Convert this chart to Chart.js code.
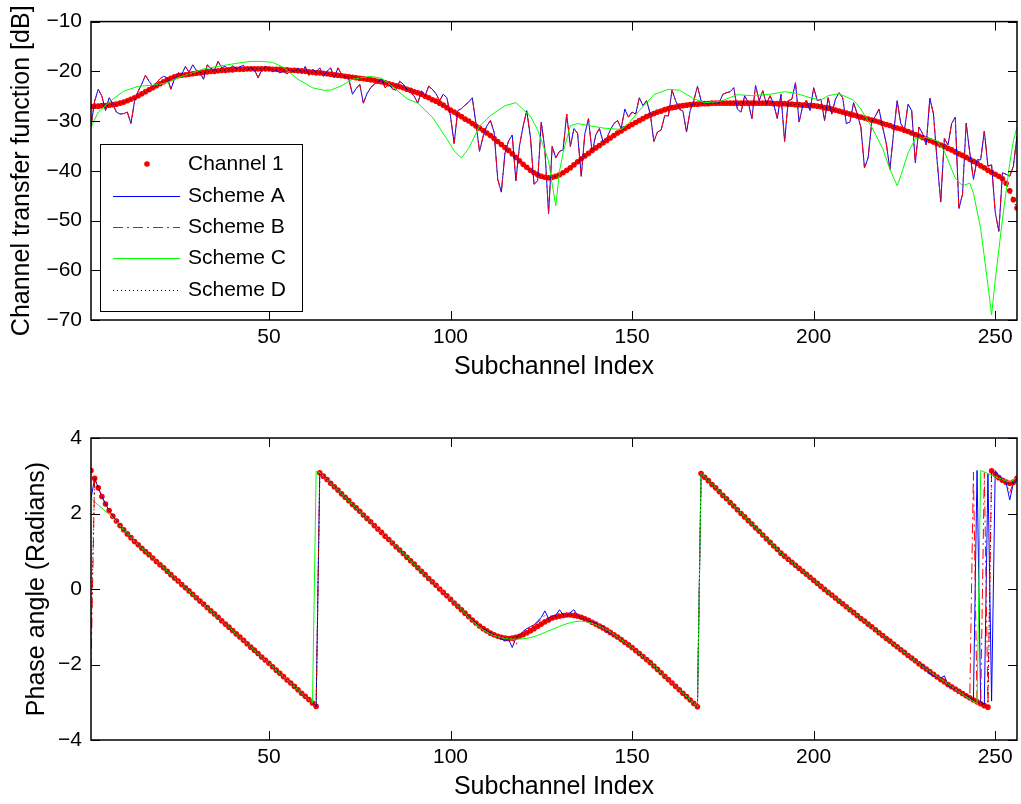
<!DOCTYPE html>
<html><head><meta charset="utf-8">
<script src="https://cdn.jsdelivr.net/npm/chart.js@4.4.1/dist/chart.umd.min.js"></script>
<style>
html,body{margin:0;padding:0;background:#fff;}
#wrap{position:relative;width:1021px;height:804px;background:#fff;}
#c1{position:absolute;left:0;top:0;}
#c2{position:absolute;left:0;top:400px;}
</style></head><body>
<div id="wrap"><canvas id="c1" width="1021" height="400"></canvas><canvas id="c2" width="1021" height="404"></canvas></div>
<script>
// ---------------- DATA ----------------
const seriesNames = ['Channel 1','Scheme A','Scheme B','Scheme C','Scheme D'];
const xTicks = [50,100,150,200,250];
const yTicksTop = [-70,-60,-50,-40,-30,-20,-10];
const yTicksBottom = [-4,-2,0,2,4];
const xLabel = 'Subchannel Index';
const yLabelTop = 'Channel transfer function [dB]';
const yLabelBottom = 'Phase angle (Radians)';

// Channel 1 magnitude (dB), subchannels 1..256
const channel1_dB = [
-27.1,-27.0,-27.0,-26.9,-26.9,-26.8,-26.7,-26.6,-26.4,-26.2,
-25.9,-25.6,-25.3,-24.9,-24.5,-24.1,-23.7,-23.3,-22.9,-22.5,
-22.1,-21.7,-21.4,-21.1,-20.9,-20.8,-20.7,-20.6,-20.5,-20.4,
-20.3,-20.2,-20.1,-20.0,-20.0,-19.9,-19.8,-19.8,-19.7,-19.7,
-19.6,-19.6,-19.6,-19.5,-19.5,-19.5,-19.5,-19.5,-19.5,-19.5,
-19.6,-19.6,-19.6,-19.7,-19.7,-19.8,-19.8,-19.9,-19.9,-20.0,
-20.1,-20.2,-20.3,-20.3,-20.4,-20.5,-20.6,-20.7,-20.8,-20.9,
-21.0,-21.1,-21.2,-21.3,-21.4,-21.5,-21.6,-21.7,-21.8,-22.0,
-22.1,-22.3,-22.5,-22.7,-22.9,-23.1,-23.3,-23.6,-23.8,-24.1,
-24.3,-24.6,-25.0,-25.3,-25.7,-26.0,-26.4,-26.8,-27.3,-27.8,
-28.2,-28.7,-29.1,-29.6,-30.0,-30.5,-31.0,-31.4,-31.9,-32.4,
-32.9,-33.5,-34.1,-34.7,-35.3,-35.9,-36.6,-37.3,-38.0,-38.7,
-39.3,-39.9,-40.4,-40.8,-41.1,-41.3,-41.4,-41.3,-41.1,-40.8,
-40.4,-39.9,-39.4,-38.8,-38.2,-37.6,-37.0,-36.5,-35.9,-35.4,
-34.9,-34.4,-33.9,-33.4,-32.9,-32.4,-32.0,-31.5,-31.1,-30.7,
-30.3,-29.9,-29.5,-29.1,-28.8,-28.5,-28.2,-28.0,-27.7,-27.5,
-27.3,-27.2,-27.0,-26.9,-26.8,-26.7,-26.6,-26.6,-26.5,-26.5,
-26.5,-26.4,-26.4,-26.4,-26.4,-26.4,-26.4,-26.4,-26.4,-26.4,
-26.4,-26.4,-26.4,-26.4,-26.4,-26.4,-26.4,-26.4,-26.5,-26.5,
-26.5,-26.5,-26.6,-26.6,-26.7,-26.7,-26.8,-26.8,-26.9,-26.9,
-27.0,-27.1,-27.3,-27.4,-27.6,-27.8,-28.0,-28.2,-28.4,-28.6,
-28.8,-29.0,-29.2,-29.4,-29.6,-29.8,-30.0,-30.2,-30.5,-30.7,
-30.9,-31.2,-31.4,-31.6,-31.9,-32.1,-32.4,-32.7,-33.0,-33.3,
-33.6,-33.9,-34.2,-34.5,-34.8,-35.1,-35.5,-35.8,-36.2,-36.6,
-36.9,-37.3,-37.7,-38.1,-38.5,-39.0,-39.4,-39.9,-40.3,-40.7,
-41.1,-41.6,-42.5,-44.0,-45.8,-47.5];

// Scheme A magnitude (dB) (Scheme B coincides with it in the picture)
const schemeA_dB = [
-31.0,-26.0,-23.6,-25.0,-27.9,-25.3,-26.5,-28.2,-28.6,-28.5,
-28.2,-30.5,-26.0,-24.0,-22.5,-20.8,-22.0,-23.0,-22.3,-21.5,
-21.0,-21.3,-23.6,-21.5,-20.3,-20.6,-19.0,-20.2,-18.7,-19.8,
-20.2,-21.6,-18.7,-19.4,-19.8,-18.0,-19.3,-19.0,-19.7,-18.9,
-19.4,-19.1,-18.8,-19.8,-19.2,-19.6,-21.3,-19.8,-19.0,-19.5,
-20.0,-19.8,-20.3,-20.0,-20.5,-19.8,-20.0,-19.3,-20.5,-19.0,
-20.8,-19.6,-20.1,-19.3,-21.0,-20.0,-19.3,-21.3,-19.3,-20.6,
-21.0,-21.6,-24.6,-23.5,-22.6,-26.4,-24.5,-23.3,-22.6,-22.0,
-21.6,-23.3,-22.6,-23.5,-23.8,-22.0,-22.6,-23.6,-24.3,-25.0,
-26.4,-23.9,-24.9,-23.0,-23.6,-24.5,-25.9,-24.6,-25.3,-29.0,
-34.5,-27.9,-27.5,-26.8,-26.2,-25.3,-30.5,-36.1,-33.0,-31.0,
-29.9,-32.2,-41.7,-44.3,-36.4,-34.0,-32.8,-42.0,-35.0,-31.0,
-27.9,-33.2,-42.7,-42.0,-30.2,-35.8,-48.6,-35.1,-37.4,-36.1,
-35.8,-28.6,-35.1,-31.5,-32.5,-41.1,-32.5,-29.5,-36.4,-32.8,
-31.5,-34.1,-33.5,-31.8,-30.5,-29.9,-31.5,-27.6,-29.2,-28.2,
-28.6,-25.3,-26.9,-25.9,-28.5,-34.1,-32.2,-31.8,-28.9,-29.0,
-23.8,-25.9,-27.6,-28.0,-32.2,-27.9,-25.9,-23.0,-25.9,-26.3,
-26.6,-26.3,-26.3,-26.3,-24.6,-24.3,-24.1,-23.3,-27.6,-28.2,
-24.9,-26.3,-29.5,-22.8,-25.9,-23.9,-26.6,-24.9,-26.6,-29.5,
-24.6,-34.1,-25.9,-25.6,-22.3,-30.2,-26.9,-25.8,-27.9,-23.3,
-25.9,-25.6,-29.9,-25.3,-28.6,-25.6,-24.3,-25.3,-30.5,-30.2,
-26.3,-28.6,-31.2,-39.4,-37.4,-30.2,-29.0,-27.6,-31.2,-34.5,
-39.7,-32.5,-25.9,-30.5,-31.8,-26.6,-27.9,-38.4,-31.2,-32.5,
-34.8,-25.4,-28.6,-38.0,-46.3,-33.5,-34.8,-30.5,-29.2,-47.6,
-44.7,-30.4,-36.4,-41.7,-37.8,-37.8,-32.0,-39.1,-38.8,-48.3,
-52.2,-40.4,-40.7,-41.1,-39.1,-33.0];

// Scheme C magnitude (dB), [subchannel, value]
const schemeC_dB = [
[1,-31.2],[3,-28.2],[7,-25.6],[10,-24.0],[14,-23.0],[18,-22.8],[22,-22.3],[25,-21.3],[29,-20.3],[32,-19.5],
[36,-19.0],[41,-18.4],[45,-18.0],[48,-18.0],[51,-18.2],[54,-19.2],[58,-21.6],[62,-23.3],[65,-23.8],[67,-23.8],
[70,-22.9],[73,-21.6],[78,-21.0],[81,-21.4],[84,-23.0],[88,-25.5],[91,-26.4],[95,-29.2],[99,-33.6],[101,-36.0],
[103,-37.4],[105,-35.5],[108,-31.0],[111,-28.9],[115,-26.9],[118,-26.3],[122,-29.0],[124,-31.8],[127,-38.0],[128,-42.7],
[129,-47.0],[130,-40.1],[131,-36.4],[133,-30.9],[135,-30.5],[138,-30.9],[142,-31.4],[147,-31.7],[149,-30.5],[152,-27.9],
[156,-24.7],[160,-23.6],[163,-23.8],[167,-25.5],[170,-26.3],[174,-26.1],[179,-24.7],[183,-24.9],[188,-24.6],[192,-24.1],
[195,-24.4],[199,-25.3],[202,-25.8],[204,-24.9],[207,-24.5],[211,-25.8],[213,-27.6],[216,-31.2],[219,-35.5],[221,-39.7],
[223,-43.0],[224,-41.0],[226,-36.4],[228,-33.5],[231,-33.3],[234,-34.0],[236,-36.1],[239,-41.5],[241,-43.0],[243,-42.5],
[244,-44.5],[246,-51.6],[248,-63.0],[249,-69.0],[250,-62.0],[252,-49.7],[254,-38.5],[255,-34.0],[256,-31.2]];

// Channel 1 phase (radians), subchannels 1..256
const channel1_phase = [
3.14,2.93,2.68,2.45,2.25,2.08,1.93,1.80,1.68,1.57,
1.46,1.36,1.26,1.17,1.08,0.99,0.91,0.82,0.73,0.64,
0.56,0.47,0.38,0.29,0.21,0.12,0.03,-0.05,-0.14,-0.23,
-0.32,-0.40,-0.49,-0.58,-0.66,-0.75,-0.84,-0.93,-1.01,-1.10,
-1.19,-1.27,-1.36,-1.45,-1.54,-1.62,-1.71,-1.80,-1.88,-1.97,
-2.06,-2.15,-2.23,-2.32,-2.41,-2.49,-2.58,-2.67,-2.76,-2.84,
-2.93,-3.02,-3.11,3.08,2.99,2.90,2.80,2.71,2.62,2.52,
2.43,2.34,2.24,2.15,2.06,1.96,1.87,1.78,1.68,1.59,
1.50,1.40,1.31,1.22,1.12,1.03,0.94,0.84,0.75,0.66,
0.56,0.47,0.38,0.28,0.19,0.10,0.00,-0.09,-0.18,-0.27,
-0.37,-0.46,-0.55,-0.64,-0.73,-0.82,-0.90,-0.98,-1.05,-1.11,
-1.17,-1.21,-1.25,-1.28,-1.30,-1.31,-1.30,-1.28,-1.25,-1.21,
-1.16,-1.11,-1.05,-0.99,-0.93,-0.87,-0.82,-0.77,-0.74,-0.72,
-0.70,-0.69,-0.69,-0.70,-0.72,-0.75,-0.79,-0.83,-0.88,-0.93,
-0.98,-1.03,-1.09,-1.15,-1.21,-1.27,-1.34,-1.41,-1.48,-1.55,
-1.63,-1.71,-1.79,-1.87,-1.95,-2.04,-2.13,-2.22,-2.31,-2.40,
-2.49,-2.58,-2.67,-2.76,-2.85,-2.94,-3.03,-3.12,3.06,2.96,
2.87,2.77,2.68,2.58,2.48,2.39,2.29,2.20,2.10,2.00,
1.91,1.81,1.72,1.62,1.53,1.43,1.33,1.24,1.14,1.05,
0.95,0.87,0.79,0.71,0.63,0.55,0.47,0.39,0.31,0.23,
0.15,0.07,-0.01,-0.09,-0.16,-0.24,-0.32,-0.39,-0.47,-0.55,
-0.62,-0.70,-0.78,-0.85,-0.93,-1.00,-1.08,-1.16,-1.23,-1.31,
-1.38,-1.46,-1.53,-1.61,-1.68,-1.76,-1.83,-1.90,-1.98,-2.05,
-2.12,-2.19,-2.26,-2.33,-2.40,-2.46,-2.53,-2.59,-2.65,-2.71,
-2.77,-2.83,-2.88,-2.94,-2.99,-3.04,-3.09,-3.13,3.13,3.03,
2.95,2.88,2.83,2.80,2.83,2.93];

// Scheme A phase, [subchannel, value]
const schemeA_phase = [
[1,2.40],[2,2.93],[3,2.68],[4,2.45],[5,2.25],[6,2.08],[7,1.93],[8,1.80],[10,1.57],[13,1.26],
[27,0.03],[45,-1.54],[63,-3.11],[64,3.08],[80,1.59],[100,-0.27],[105,-0.73],[108,-0.98],[110,-1.11],[112,-1.21],
[113,-1.27],[114,-1.32],[115,-1.38],[116,-1.33],[117,-1.55],[118,-1.30],[119,-1.22],[120,-1.12],[121,-1.05],[122,-1.00],
[123,-0.95],[124,-0.85],[125,-0.75],[126,-0.58],[127,-0.78],[128,-0.72],[129,-0.70],[130,-0.55],[131,-0.68],[132,-0.72],
[133,-0.62],[134,-0.55],[135,-0.70],[136,-0.78],[137,-0.80],[138,-0.85],[139,-0.88],[140,-0.90],[141,-1.00],[142,-0.98],
[143,-1.12],[145,-1.21],[150,-1.55],[155,-1.95],[160,-2.40],[168,-3.12],[169,3.06],[183,1.72],[191,0.95],[200,0.23],
[210,-0.55],[220,-1.31],[228,-1.90],[229,-1.98],[230,-2.02],[231,-2.10],[232,-2.25],[233,-2.30],[234,-2.32],[235,-2.36],
[236,-2.30],[237,-2.56],[238,-2.60],[240,-2.71],[243,-2.88],[244,-2.95],[245,3.14],[246,-3.00],[247,-3.05],[248,3.05],
[249,-2.97],[250,3.14],[251,3.00],[252,2.92],[253,2.82],[254,2.36],[255,2.80],[256,2.90]];

// Scheme B phase, [subchannel, value]
const schemeB_phase = [
[1,-2.10],[2,2.93],[3,2.68],[4,2.45],[5,2.25],[6,2.08],[7,1.93],[8,1.80],[10,1.57],[13,1.26],
[27,0.03],[45,-1.54],[63,-3.11],[64,3.08],[80,1.59],[100,-0.27],[105,-0.73],[108,-0.98],[110,-1.11],[112,-1.21],
[113,-1.27],[114,-1.30],[115,-1.33],[116,-1.40],[117,-1.30],[118,-1.50],[119,-1.25],[120,-1.15],[121,-1.08],[122,-1.02],
[123,-0.96],[124,-0.88],[125,-0.80],[126,-0.70],[127,-0.85],[128,-0.74],[129,-0.71],[130,-0.62],[131,-0.70],[132,-0.70],
[133,-0.66],[134,-0.60],[135,-0.72],[136,-0.77],[137,-0.80],[138,-0.84],[139,-0.88],[140,-0.92],[141,-0.98],[142,-1.02],
[143,-1.10],[145,-1.21],[150,-1.55],[155,-1.95],[160,-2.40],[168,-3.12],[169,3.06],[183,1.72],[191,0.95],[200,0.23],
[210,-0.55],[220,-1.31],[228,-1.90],[230,-2.04],[232,-2.20],[234,-2.33],[236,-2.38],[237,-2.50],[238,-2.58],[240,-2.71],
[243,-2.88],[244,3.10],[245,-3.00],[246,-3.03],[247,3.08],[248,-3.05],[249,3.13],[250,3.03],[251,2.95],[252,2.88],
[253,2.80],[254,2.55],[255,2.82],[256,2.92]];

// Scheme C phase, [subchannel, value]
const schemeC_phase = [
[1,2.40],[3,2.22],[5,2.06],[7,1.90],[9,1.68],[10,1.57],[13,1.26],[27,0.03],[45,-1.54],[62,-3.02],
[63,3.12],[64,3.08],[80,1.59],[100,-0.27],[104,-0.64],[105,-0.75],[106,-0.84],[107,-0.93],[108,-1.01],[109,-1.08],
[110,-1.14],[111,-1.19],[112,-1.23],[113,-1.26],[114,-1.29],[115,-1.31],[116,-1.32],[118,-1.33],[120,-1.32],[122,-1.29],
[124,-1.23],[126,-1.15],[128,-1.07],[130,-0.99],[132,-0.92],[134,-0.87],[136,-0.85],[138,-0.88],[140,-0.94],[142,-1.03],
[144,-1.14],[146,-1.27],[150,-1.55],[155,-1.95],[160,-2.40],[168,-3.12],[169,3.06],[183,1.72],[191,0.95],[200,0.23],
[210,-0.55],[220,-1.31],[230,-2.05],[240,-2.72],[245,-3.04],[246,3.14],[250,2.98],[253,2.86],[254,2.84],[255,2.88],
[256,2.95]];

// Scheme D follows Channel 1 except its first subchannel
const schemeD_phase_first = -1.2;

// ---------------- STYLE / BUILD ----------------
const FONT = '"Liberation Sans", Arial, Helvetica, sans-serif';
const subIdx = channel1_dB.map((_, k) => k + 1);
const toPts = ys => ys.map((y, k) => ({x: subIdx[k], y}));
const fromPairs = pp => pp.map(p => ({x: p[0], y: p[1]}));
const fmt = v => (v < 0 ? '\u2212' + Math.abs(v) : String(v));

const STY = {
  ch1: {color:'#ff0000'},
  A: {color:'#0000ff'},
  B: {color:'#ff0000', dash:[10,4,2,4]},
  C: {color:'#00ff00'},
  D: {color:'#000000', dash:[1,3]}
};

function makeDatasets(ch1, A, B, C, D) {
  return [
    {label:seriesNames[0], data:ch1, showLine:false, pointRadius:2.8, pointBackgroundColor:STY.ch1.color, pointBorderWidth:0, borderColor:STY.ch1.color, order:5},
    {label:seriesNames[1], data:A, borderColor:STY.A.color, borderWidth:1, pointRadius:0, order:4},
    {label:seriesNames[2], data:B, borderColor:STY.B.color, borderWidth:1, borderDash:STY.B.dash, pointRadius:0, order:3},
    {label:seriesNames[3], data:C, borderColor:STY.C.color, borderWidth:1, pointRadius:0, order:2},
    {label:seriesNames[4], data:D, borderColor:STY.D.color, borderWidth:1, borderDash:STY.D.dash, pointRadius:0, order:1}
  ];
}

const framePlugin = {
  id:'frame',
  afterDraw(chart) {
    const {ctx, chartArea:a, scales} = chart;
    ctx.save();
    ctx.strokeStyle = '#000';
    ctx.lineWidth = 1;
    ctx.beginPath();
    scales.x.ticks.forEach(t => {
      const p = Math.round(scales.x.getPixelForValue(t.value)) + 0.5;
      ctx.moveTo(p, a.bottom); ctx.lineTo(p, a.bottom - 9);
      ctx.moveTo(p, a.top); ctx.lineTo(p, a.top + 9);
    });
    scales.y.ticks.forEach(t => {
      const p = Math.round(scales.y.getPixelForValue(t.value)) + 0.5;
      ctx.moveTo(a.left, p); ctx.lineTo(a.left + 9, p);
      ctx.moveTo(a.right, p); ctx.lineTo(a.right - 9, p);
    });
    ctx.stroke();
    ctx.lineWidth = 1.5;
    ctx.strokeRect(a.left, a.top, a.right - a.left, a.bottom - a.top);
    ctx.restore();
  }
};

const legendPlugin = {
  id:'boxLegend',
  afterDraw(chart) {
    const ctx = chart.ctx;
    const L = 100, T = 144, R = 302, B = 311;
    ctx.save();
    ctx.fillStyle = '#fff';
    ctx.fillRect(L, T, R - L, B - T);
    ctx.strokeStyle = '#000';
    ctx.lineWidth = 1;
    ctx.strokeRect(L + 0.5, T + 0.5, R - L, B - T);
    const rows = [164, 196, 227, 258, 290];
    const x0 = 113, x1 = 180;
    chart.data.datasets.forEach((ds, i) => {
      const y = rows[i];
      if (i === 0) {
        ctx.fillStyle = ds.pointBackgroundColor;
        ctx.beginPath(); ctx.arc(147, y, 2.8, 0, Math.PI * 2); ctx.fill();
      } else {
        ctx.strokeStyle = ds.borderColor;
        ctx.lineWidth = 1;
        ctx.setLineDash(ds.borderDash || []);
        ctx.beginPath(); ctx.moveTo(x0, y + 0.5); ctx.lineTo(x1, y + 0.5); ctx.stroke();
        ctx.setLineDash([]);
      }
      ctx.fillStyle = '#000';
      ctx.font = '21px ' + FONT;
      ctx.textBaseline = 'middle';
      ctx.textAlign = 'left';
      ctx.fillText(ds.label, 188, y);
    });
    ctx.restore();
  }
};

function makeOptions(cfg) {
  return {
    responsive:false, animation:false, devicePixelRatio:1,
    layout:{padding:{top:cfg.padTop, right:1, left:0, bottom:0}},
    plugins:{legend:{display:false}, tooltip:{enabled:false}},
    events:[],
    scales:{
      x:{type:'linear', min:1, max:256,
        afterBuildTicks:s => { s.ticks = xTicks.map(v => ({value:v})); },
        afterFit:s => { s.height = cfg.xHeight; },
        grid:{display:false, drawTicks:false}, border:{display:false},
        ticks:{color:'#000', font:{family:FONT, size:21}, padding:5, maxRotation:0, autoSkip:false, callback:v => fmt(v)},
        title:{display:true, text:xLabel, color:'#000', font:{family:FONT, size:25}, padding:{top:0, bottom:cfg.xTitlePad}}
      },
      y:{type:'linear', min:cfg.yMin, max:cfg.yMax,
        afterBuildTicks:s => { s.ticks = cfg.yTicks.map(v => ({value:v})); },
        afterFit:s => { s.width = 91; },
        grid:{display:false, drawTicks:false}, border:{display:false},
        ticks:{color:'#000', font:{family:FONT, size:21}, padding:9, autoSkip:false, callback:v => fmt(v)},
        title:{display:true, text:cfg.yLabel, color:'#000', font:{family:FONT, size:cfg.yTitleSize}, padding:{top:cfg.yTitlePad, bottom:0}}
      }
    }
  };
}

new Chart(document.getElementById('c1'), {
  type:'line',
  data:{datasets:makeDatasets(
    toPts(channel1_dB), toPts(schemeA_dB), toPts(schemeA_dB), fromPairs(schemeC_dB), toPts(channel1_dB))},
  options:makeOptions({padTop:16, xHeight:80, xTitlePad:18, yMin:-70, yMax:-10, yTicks:yTicksTop, yLabel:yLabelTop, yTitlePad:7, yTitleSize:25}),
  plugins:[framePlugin, legendPlugin]
});

new Chart(document.getElementById('c2'), {
  type:'line',
  data:{datasets:makeDatasets(
    toPts(channel1_phase), fromPairs(schemeA_phase), fromPairs(schemeB_phase), fromPairs(schemeC_phase),
    [{x:1, y:schemeD_phase_first}].concat(toPts(channel1_phase).slice(1)))},
  options:makeOptions({padTop:38, xHeight:64, xTitlePad:2, yMin:-4, yMax:4, yTicks:yTicksBottom, yLabel:yLabelBottom, yTitlePad:22, yTitleSize:25}),
  plugins:[framePlugin]
});
</script>
</body></html>
